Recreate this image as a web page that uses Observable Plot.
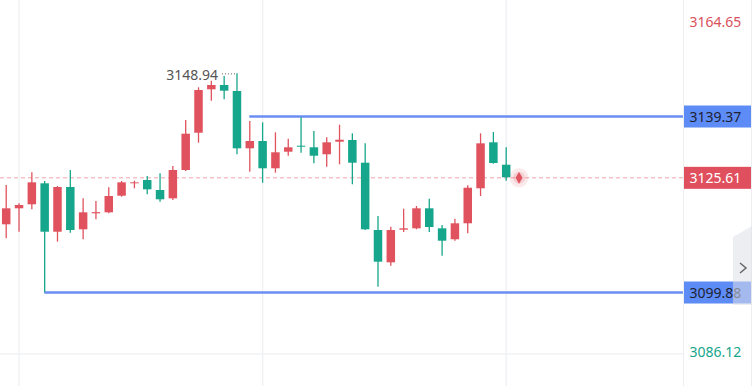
<!DOCTYPE html>
<html><head><meta charset="utf-8">
<script src="https://cdn.jsdelivr.net/npm/d3@7"></script>
<script src="https://cdn.jsdelivr.net/npm/@observablehq/plot@0.6"></script>
<style>
html,body{margin:0;padding:0;background:#fff;}
#wrap{position:relative;width:755px;height:386px;overflow:hidden;background:#fff;}
#wrap svg{display:block;}
.sep{position:absolute;top:0;width:1px;height:386px;background:#eceef2;}
#nav{position:absolute;left:733px;top:226px;width:19px;height:79px;background:rgba(222,224,231,0.55);clip-path:polygon(0 11px,100% 0,100% 100%,0 100%);}
#nav svg{position:absolute;left:5px;top:35px;}
</style></head><body><div id="wrap"></div>
<script>
// ---- data (candle index, OHLC) ----
const idx = d3.range(40);
const opens  = [3115.07,3118.66,3119.56,3124.27,3113.41,3123.44,3113.95,3117.54,3117.76,3121.49,3124.27,3125.01,3122.77,3120.90,3127.25,3135.62,3145.36,3146.33,3144.98,3132.12,3133.76,3127.64,3131.36,3132.71,3132.35,3130.78,3133.60,3133.99,3128.89,3113.79,3106.54,3113.86,3114.17,3118.66,3114.17,3111.71,3115.30,3123.15,3133.47,3128.44];
const highs  = [3123.89,3119.78,3126.74,3124.79,3123.66,3127.25,3120.90,3120.30,3123.37,3124.79,3124.85,3125.91,3126.51,3128.15,3138.47,3145.81,3147.29,3148.34,3148.94,3138.25,3137.96,3135.71,3134.28,3139.08,3136.00,3134.59,3137.42,3135.49,3133.24,3116.93,3114.53,3118.57,3119.18,3120.81,3114.91,3116.33,3123.82,3135.49,3135.78,3132.35];
const lows   = [3111.93,3113.41,3118.44,3099.88,3111.17,3113.19,3111.71,3116.19,3117.54,3121.26,3123.15,3121.80,3120.14,3120.52,3127.03,3133.38,3142.80,3143.12,3130.78,3126.87,3124.40,3126.65,3130.46,3131.14,3128.76,3127.99,3128.53,3124.05,3113.79,3101.07,3105.78,3113.34,3113.95,3113.34,3108.03,3111.39,3113.05,3121.42,3128.67,3124.85];
const closes = [3118.66,3119.40,3124.49,3113.41,3123.44,3113.79,3117.76,3117.80,3121.42,3124.49,3124.49,3122.92,3120.68,3127.25,3135.40,3145.20,3146.33,3145.05,3132.12,3133.76,3127.64,3131.23,3132.35,3132.48,3130.46,3133.47,3134.05,3128.89,3113.95,3106.68,3113.79,3114.17,3118.66,3114.46,3111.39,3115.30,3123.28,3133.24,3128.82,3125.61];
const levelPrices = [3139.37, 3099.88];   // resistance, support
const levelStarts = [19, 3];              // candle index where each line starts
const tagPrices = [3139.37, 3125.61, 3099.88];
const topPrice = 3164.65;
const bottomPrice = 3086.12;
const gridIdx = [1, 20, 39];
const gridPrice = [3086.12];

// ---- styling ----
const RED = "#e0525e", GREEN = "#16a68b", BLUE = "#6b8ef2", TAGBLUE = "#5e8cf6";
const xDomain = [-0.445, 52.83];
const yDomain = [3078.79, 3165.40];

const candles = idx.map(i => ({i, open: opens[i], high: highs[i], low: lows[i], close: closes[i]}));
const col = d => d.close >= d.open ? RED : GREEN;
const last = candles[candles.length - 1];
const hiC = candles.reduce((a, b) => b.high > a.high ? b : a);
const levels = levelPrices.map((p, k) => ({price: p, from: levelStarts[k]}));
const lastPrice = last.close;

const chart = Plot.plot({
  width: 755, height: 386,
  marginTop: 0, marginBottom: 0, marginLeft: 0, marginRight: 72,
  x: {type: "linear", domain: xDomain, axis: null},
  y: {domain: yDomain, axis: null},
  style: {fontFamily: "'Noto Sans', sans-serif", fontSize: "14px", overflow: "visible", background: "#fff"},
  marks: [
    Plot.ruleX(gridIdx, {stroke: "#eef0f3", strokeWidth: 1.3}),
    Plot.ruleY(gridPrice, {stroke: "#eef0f3", strokeWidth: 1.3}),
    Plot.ruleY([lastPrice], {stroke: "#f0a3ab", strokeDasharray: "4,3", strokeWidth: 1}),
    Plot.ruleY(levels, {y: "price", x1: "from", x2: xDomain[1], stroke: BLUE, strokeWidth: 2.5}),
    Plot.ruleX(candles, {x: "i", y1: "low", y2: "high", stroke: col, strokeWidth: 1.3}),
    Plot.ruleX(candles, {x: "i", y1: "open", y2: "close", stroke: col, strokeWidth: 8.5}),
    Plot.ruleY([hiC], {y: "high", x1: d => d.i - 1.13, x2: "i", stroke: "#666", strokeDasharray: "1,2", strokeWidth: 1}),
    Plot.text([hiC], {x: "i", y: "high", text: d => d.high.toFixed(2), textAnchor: "end", dx: -19, dy: 2, fill: "#555"}),
    Plot.dot([last], {x: d => d.i + 1, y: "close", r: 9.5, fill: RED, fillOpacity: 0.12}),
    Plot.dot([last], {x: d => d.i + 1, y: "close", r: 6, fill: RED, fillOpacity: 0.18}),
    Plot.dot([last], {x: d => d.i + 1, y: "close", r: 3.6, symbol: "diamond", fill: RED}),
    Plot.text(tagPrices, {y: d => d, text: d => d.toFixed(2), frameAnchor: "right", textAnchor: "start", dx: 6, dy: 1,
      fill: d => d === lastPrice ? "#fff" : "#1c2233"}),
    Plot.text([topPrice], {text: d => d.toFixed(2), frameAnchor: "top-right", textAnchor: "start", dx: 6, dy: 17, fill: "#d9505c"}),
    Plot.text([bottomPrice], {text: d => d.toFixed(2), frameAnchor: "bottom-right", textAnchor: "start", dx: 6, dy: -30, fill: GREEN})
  ]
});

const wrap = document.getElementById("wrap");
wrap.appendChild(chart);

// tag boxes behind the price tags, positioned through Plot's y scale
const ys = chart.scale("y");
const tagText = Array.from(chart.querySelectorAll("text")).find(t => t.textContent === lastPrice.toFixed(2));
if (tagText) {
  const tagG = tagText.parentNode;
  tagPrices.forEach(p => {
    const r = document.createElementNS("http://www.w3.org/2000/svg", "rect");
    const y = ys.apply(p);
    r.setAttribute("x", 684); r.setAttribute("width", 67);
    r.setAttribute("y", y - 10.5); r.setAttribute("height", 22);
    r.setAttribute("fill", p === lastPrice ? "#df4f5d" : TAGBLUE);
    tagG.parentNode.insertBefore(r, tagG);
  });
}

// axis separators and scroll button
[683, 751].forEach(x => { const d = document.createElement("div"); d.className = "sep"; d.style.left = x + "px"; wrap.appendChild(d); });
const nav = document.createElement("div"); nav.id = "nav";
nav.innerHTML = '<svg width="10" height="14"><polyline points="2,2 8,7 2,12" fill="none" stroke="#666" stroke-width="1.5"/></svg>';
wrap.appendChild(nav);
</script></body></html>
